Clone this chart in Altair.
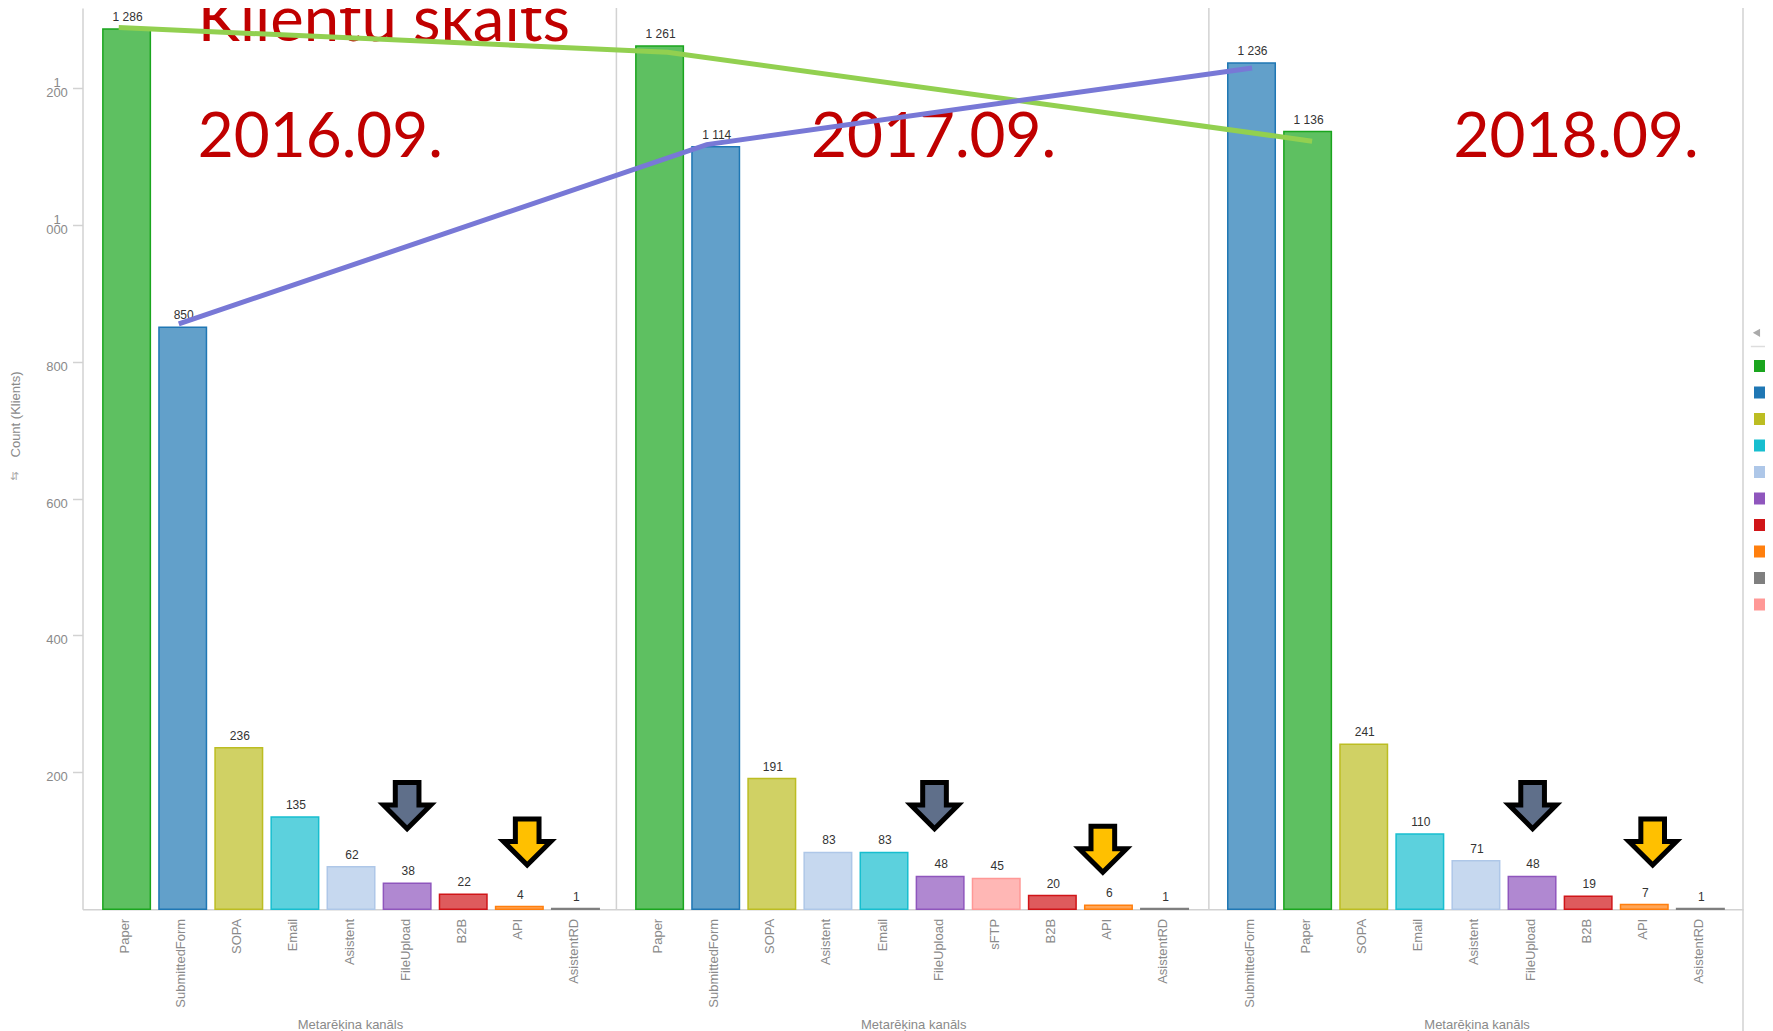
import altair as alt
import pandas as pd

panel1_cats = ["Paper", "SubmittedForm", "SOPA", "Email", "Asistent", "FileUpload", "B2B", "API", "AsistentRD"]
panel1_vals = [1286, 850, 236, 135, 62, 38, 22, 4, 1]
panel2_cats = ["Paper", "SubmittedForm", "SOPA", "Asistent", "Email", "FileUpload", "sFTP", "B2B", "API", "AsistentRD"]
panel2_vals = [1261, 1114, 191, 83, 83, 48, 45, 20, 6, 1]
panel3_cats = ["SubmittedForm", "Paper", "SOPA", "Email", "Asistent", "FileUpload", "B2B", "API", "AsistentRD"]
panel3_vals = [1236, 1136, 241, 110, 71, 48, 19, 7, 1]
panel_starts = [0, 9.5, 20.05]

legend_order = ["Paper", "SubmittedForm", "SOPA", "Email", "Asistent", "FileUpload", "B2B", "API", "AsistentRD", "sFTP"]
legend_colors = ["#1aa51e", "#1f77b4", "#bcbd22", "#17becf", "#aec7e8", "#8f56bd", "#d01518", "#ff7f0e", "#7f7f7f", "#ff9896"]

y_ticks = [200, 400, 600, 800, 1000, 1200]

green_x = [-0.14, 9.64, 21.13]
green_y = [1288, 1252, 1122]
blue_x = [0.93, 10.34, 20.06]
blue_y = [855, 1117, 1229]

heading_text = ["Klientu skaits"]
heading_x = [1.27]
heading_y = [1268]
date_texts = ["2016.09.", "2017.09.", "2018.09."]
date_x = [1.27, 12.2, 23.65]
date_y = [1099, 1099, 1099]

gray_arrow_x = [5.0, 14.4, 25.06]
gray_arrow_y = [151.5, 151.5, 151.5]
gold_arrow_x = [7.14, 17.4, 27.2]
gold_arrow_y = [98.3, 87.7, 98.3]

title_text = "Metarēķina kanāls"
title_x = [3.99, 14.03, 24.07]
title_y = -169

divider_x = [8.73, 19.29]
right_edge = 28.81
X_LO, X_HI = -0.786, right_edge
Y_TOP = 1316.5

rows = []
for start, cats, vals in zip(panel_starts, [panel1_cats, panel2_cats, panel3_cats], [panel1_vals, panel2_vals, panel3_vals]):
    for i, (c, v) in enumerate(zip(cats, vals)):
        rows.append({"slot": start + i, "cat": c, "val": v, "label": f"{v:,}".replace(",", " ")})
df = pd.DataFrame(rows)

xs = alt.Scale(domain=[X_LO, X_HI], nice=False, zero=False, padding=0)
ys = alt.Scale(domain=[0, Y_TOP], nice=False, padding=0)
cs = alt.Scale(domain=legend_order, range=legend_colors)

GRAY = "#8a8a8a"
LINE = "#d2d2d2"
slots_js = ",".join(str(s) for s in df["slot"])
names_js = ",".join("'" + c + "'" for c in df["cat"])

x_axis = alt.Axis(
    values=list(df["slot"]), title=None, ticks=False, grid=False, domainColor=LINE, domainWidth=1.5,
    labelExpr=f"[{names_js}][indexof([{slots_js}], datum.value)]",
    labelAngle=270, labelAlign="right", labelBaseline="middle", labelPadding=9, labelOffset=-2,
    labelColor=GRAY, labelFont="Liberation Sans", labelFontSize=13, labelOverlap=False,
    labelBound=False, labelFlush=False, labelLimit=0,
)
y_axis = alt.Axis(
    values=y_ticks, title="Count (Klients)", titleX=-60, titleY=406, titleAngle=270,
    titleColor=GRAY, titleFont="Liberation Sans", titleFontSize=13, titleFontWeight="normal",
    tickColor=LINE, tickSize=10, tickWidth=1.5, domainColor=LINE, domainWidth=1.5, grid=False,
    labelExpr="datum.value >= 1000 ? ['1', format(datum.value - 1000, '03d')] : ['', datum.label]",
    labelAlign="center", labelBaseline="bottom", labelOffset=1.5, labelPadding=16, labelColor=GRAY,
    labelFont="Liberation Sans", labelFontSize=13, labelLineHeight=10, labelOverlap=False,
    labelBound=False, labelFlush=False,
)

bars = alt.Chart(df).mark_bar(size=47.5, fillOpacity=0.7, strokeWidth=1.5).encode(
    x=alt.X("slot:Q", scale=xs, axis=x_axis),
    y=alt.Y("val:Q", scale=ys, axis=y_axis),
    color=alt.Color("cat:N", scale=cs, sort=legend_order, legend=alt.Legend(
        orient="none", legendX=1671.5, legendY=352, title=None, symbolType="square", symbolSize=144,
        symbolStrokeWidth=0, symbolOpacity=1, rowPadding=14.5, labelFontSize=11, labelExpr="''")),
    stroke=alt.Stroke("cat:N", scale=cs, legend=None),
)

value_labels = alt.Chart(df).mark_text(
    baseline="bottom", dy=-5, dx=1, font="Liberation Sans", fontSize=12, color="#333333"
).encode(x=alt.X("slot:Q", scale=xs, axis=None), y=alt.Y("val:Q", scale=ys, axis=None), text="label:N")

dividers = alt.Chart(pd.DataFrame({"x": divider_x})).mark_rule(color=LINE, strokeWidth=1.5).encode(
    x=alt.X("x:Q", scale=xs, axis=None),
    y=alt.datum(0, scale=ys, axis=None), y2=alt.datum(Y_TOP),
)
right_border = alt.Chart(pd.DataFrame({"x": [right_edge]})).mark_rule(color=LINE, strokeWidth=1.5).encode(
    x=alt.X("x:Q", scale=xs, axis=None),
    y=alt.datum(-180, scale=ys, axis=None), y2=alt.datum(Y_TOP),
)

heading = alt.Chart(pd.DataFrame({"x": heading_x, "y": heading_y, "t": heading_text})).mark_text(
    align="left", baseline="alphabetic", font="Lato", fontSize=63.5, color="#c00000"
).encode(x=alt.X("x:Q", scale=xs, axis=None), y=alt.Y("y:Q", scale=ys, axis=None), text="t:N")
dates = alt.Chart(pd.DataFrame({"x": date_x, "y": date_y, "t": date_texts})).mark_text(
    align="left", baseline="alphabetic", font="Lato", fontSize=62, color="#c00000"
).encode(x=alt.X("x:Q", scale=xs, axis=None), y=alt.Y("y:Q", scale=ys, axis=None), text="t:N")

green = alt.Chart(pd.DataFrame({"x": green_x, "y": green_y, "o": range(3)})).mark_line(
    color="#92d050", strokeWidth=5
).encode(x=alt.X("x:Q", scale=xs, axis=None), y=alt.Y("y:Q", scale=ys, axis=None), order="o:Q")
blue = alt.Chart(pd.DataFrame({"x": blue_x, "y": blue_y, "o": range(3)})).mark_line(
    color="#7878d6", strokeWidth=5
).encode(x=alt.X("x:Q", scale=xs, axis=None), y=alt.Y("y:Q", scale=ys, axis=None), order="o:Q")

ARROW = "M-0.4,-0.78 L0.4,-0.78 L0.4,-0.02 L0.8,-0.02 L0,0.78 L-0.8,-0.02 L-0.4,-0.02 Z"
def arrows(xv, yv, fill):
    return alt.Chart(pd.DataFrame({"x": xv, "y": yv})).mark_point(
        shape=ARROW, size=3500, filled=True, fill=fill, stroke="#000000", strokeWidth=5, opacity=1
    ).encode(x=alt.X("x:Q", scale=xs, axis=None), y=alt.Y("y:Q", scale=ys, axis=None))

titles = alt.Chart(pd.DataFrame({"x": title_x, "y": [title_y] * 3, "t": [title_text] * 3})).mark_text(
    font="Liberation Sans", fontSize=13, color=GRAY, baseline="middle"
).encode(x=alt.X("x:Q", scale=xs, axis=None), y=alt.Y("y:Q", scale=ys, axis=None), text="t:N")

sort_icon = alt.Chart(pd.DataFrame({"x": [-2.0], "y": [632], "t": ["⇵"]})).mark_text(
    font="DejaVu Sans", fontSize=11, color="#aaaaaa", baseline="middle"
).encode(x=alt.X("x:Q", scale=xs, axis=None), y=alt.Y("y:Q", scale=ys, axis=None), text="t:N")

legend_arrow = alt.Chart(pd.DataFrame({"x": [29.05], "y": [842]})).mark_point(
    shape="triangle-left", size=70, filled=True, color="#aaaaaa", opacity=1
).encode(x=alt.X("x:Q", scale=xs, axis=None), y=alt.Y("y:Q", scale=ys, axis=None))
legend_sep = alt.Chart(pd.DataFrame({"x": [28.95], "x2": [30.0], "y": [822]})).mark_rule(color="#dddddd", strokeWidth=1.5).encode(
    x=alt.X("x:Q", scale=xs, axis=None), x2="x2:Q", y=alt.Y("y:Q", scale=ys, axis=None)
)

chart = alt.layer(
    dividers, right_border, bars, value_labels, heading, dates, green, blue,
    arrows(gray_arrow_x, gray_arrow_y, "#5f6f8a"), arrows(gold_arrow_x, gold_arrow_y, "#ffc000"),
    titles, sort_icon, legend_arrow, legend_sep,
).resolve_axis(x="independent", y="independent").properties(
    width=1660.5, height=901.3,
    padding={"left": 74.5, "top": 0, "right": 22, "bottom": 121.7},
    autosize=alt.AutoSizeParams(type="none"),
    background="white",
).configure_view(stroke=None)

chart.save("out.html", embed_options={"renderer": "svg", "actions": False})
